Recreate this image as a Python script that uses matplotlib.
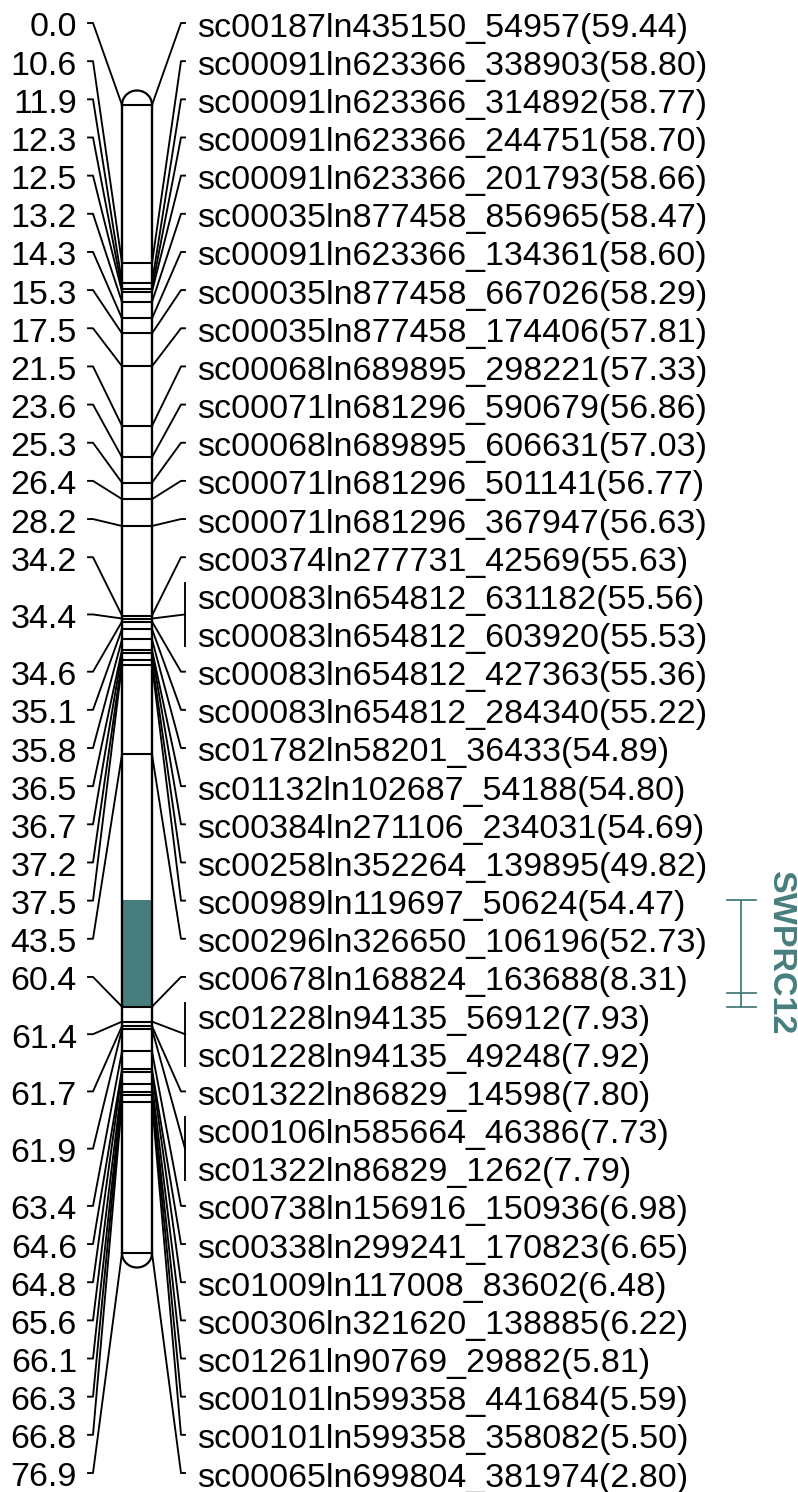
import numpy as np
import matplotlib
matplotlib.use('Agg')
import matplotlib.pyplot as plt
from matplotlib.patches import Rectangle

plt.rcParams['font.family'] = ['Liberation Sans', 'DejaVu Sans']

# marker names (top to bottom) and their map positions (cM)
markers = [
    'sc00187ln435150_54957(59.44)', 'sc00091ln623366_338903(58.80)',
    'sc00091ln623366_314892(58.77)', 'sc00091ln623366_244751(58.70)',
    'sc00091ln623366_201793(58.66)', 'sc00035ln877458_856965(58.47)',
    'sc00091ln623366_134361(58.60)', 'sc00035ln877458_667026(58.29)',
    'sc00035ln877458_174406(57.81)', 'sc00068ln689895_298221(57.33)',
    'sc00071ln681296_590679(56.86)', 'sc00068ln689895_606631(57.03)',
    'sc00071ln681296_501141(56.77)', 'sc00071ln681296_367947(56.63)',
    'sc00374ln277731_42569(55.63)', 'sc00083ln654812_631182(55.56)',
    'sc00083ln654812_603920(55.53)', 'sc00083ln654812_427363(55.36)',
    'sc00083ln654812_284340(55.22)', 'sc01782ln58201_36433(54.89)',
    'sc01132ln102687_54188(54.80)', 'sc00384ln271106_234031(54.69)',
    'sc00258ln352264_139895(49.82)', 'sc00989ln119697_50624(54.47)',
    'sc00296ln326650_106196(52.73)', 'sc00678ln168824_163688(8.31)',
    'sc01228ln94135_56912(7.93)', 'sc01228ln94135_49248(7.92)',
    'sc01322ln86829_14598(7.80)', 'sc00106ln585664_46386(7.73)',
    'sc01322ln86829_1262(7.79)', 'sc00738ln156916_150936(6.98)',
    'sc00338ln299241_170823(6.65)', 'sc01009ln117008_83602(6.48)',
    'sc00306ln321620_138885(6.22)', 'sc01261ln90769_29882(5.81)',
    'sc00101ln599358_441684(5.59)', 'sc00101ln599358_358082(5.50)',
    'sc00065ln699804_381974(2.80)',
]
positions = [0.0, 10.6, 11.9, 12.3, 12.5, 13.2, 14.3, 15.3, 17.5, 21.5,
             23.6, 25.3, 26.4, 28.2, 34.2, 34.4, 34.4, 34.6, 35.1, 35.8,
             36.5, 36.7, 37.2, 37.5, 43.5, 60.4, 61.4, 61.4, 61.7, 61.9,
             61.9, 63.4, 64.6, 64.8, 65.6, 66.1, 66.3, 66.8, 76.9]

# QTL
qtl_name = 'SWPRC12'
qtl_start, qtl_peak, qtl_end = 53.25, 59.5, 60.4
teal = '#477e7d'

# layout (pixels) -> cM scale
px_per_cm = (1253 - 105) / 76.9
W, H = 798, 1492
chr_left, chr_right = 122, 152

fig = plt.figure(figsize=(W / 100, H / 100), dpi=100)
ax = fig.add_axes([0, 0, 1, 1])
ax.set_xlim(0, W)
ax.set_ylim((H - 105) / px_per_cm, -105 / px_per_cm)
ax.axis('off')

n = len(markers)
rows = np.linspace((23 - 105) / px_per_cm, (1473 - 105) / px_per_cm, n)
base_off = 13.5 / px_per_cm
lw_conn = 1.35
fs = 24.5

# chromosome body
end = max(positions)
ax.add_patch(Rectangle((chr_left, qtl_start), chr_right - chr_left,
                       qtl_end - qtl_start, color=teal, lw=0, zorder=1))
ax.plot([chr_left, chr_left], [0, end], color='black', lw=1.7, zorder=3)
ax.plot([chr_right, chr_right], [0, end], color='black', lw=1.7, zorder=3)
t = np.linspace(0, np.pi, 60)
cx = (chr_left + chr_right) / 2
rx = (chr_right - chr_left) / 2
ry = 14.5 / px_per_cm
ax.plot(cx + rx * np.cos(t), 0 - ry * np.sin(t), color='black', lw=1.6)
ax.plot(cx + rx * np.cos(t), end + ry * np.sin(t), color='black', lw=1.6)

for p in sorted(set(positions)):
    ax.plot([chr_left, chr_right], [p, p], color='black', lw=1.5, zorder=3)

# group markers sharing a position
groups = []
for i, p in enumerate(positions):
    if groups and positions[groups[-1][0]] == p:
        groups[-1].append(i)
    else:
        groups.append([i])

for g in groups:
    p = positions[g[0]]
    ymid = np.mean(rows[g])
    # left: position label
    ax.plot([88, 93, chr_left], [ymid, ymid, p], color='black', lw=lw_conn)
    ax.text(77, ymid + base_off, f'{p:.1f}', ha='right', va='baseline',
            fontsize=fs)
    # right: marker names
    if len(g) == 1:
        ax.plot([chr_right, 181, 185], [p, ymid, ymid], color='black', lw=lw_conn)
    else:
        pad = 12.5 / px_per_cm
        ax.plot([chr_right, 185], [p, ymid], color='black', lw=lw_conn)
        ax.plot([185, 185], [rows[g[0]] - pad, rows[g[-1]] + pad],
                color='black', lw=lw_conn)
    for i in g:
        ax.text(197, rows[i] + base_off, markers[i], ha='left', va='baseline',
                fontsize=fs)

# QTL bar
qx = 741
ax.plot([qx, qx], [qtl_start, qtl_end], color=teal, lw=1.3)
for yq in (qtl_start, qtl_peak, qtl_end):
    ax.plot([727, 756], [yq, yq], color=teal, lw=1.3)
ax.text(780, (qtl_start + qtl_end) / 2, qtl_name, rotation=270, ha='center',
        va='center', fontsize=fs, fontweight='bold', color=teal)

fig.savefig('out.png', dpi=100)
